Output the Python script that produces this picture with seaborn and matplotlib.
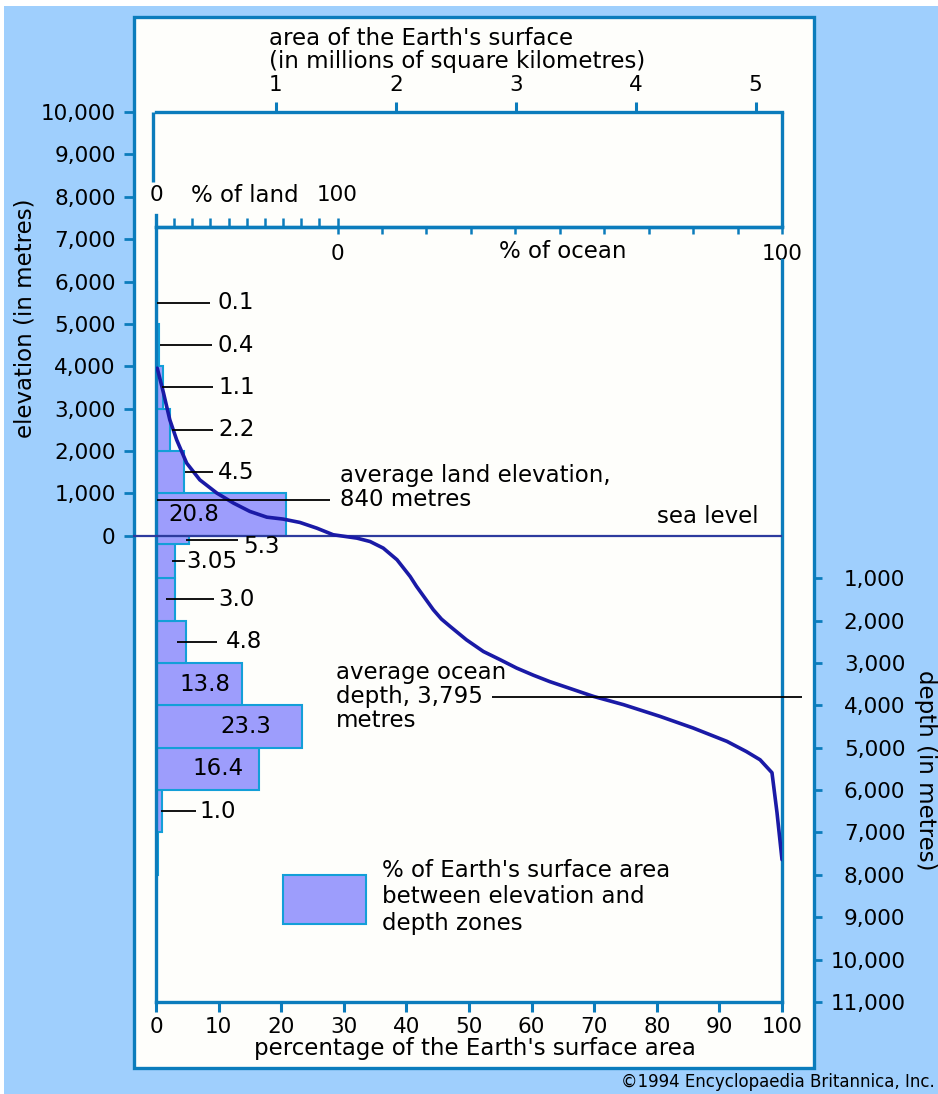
import numpy as np
import pandas as pd
import matplotlib.pyplot as plt
import seaborn as sns
from matplotlib.patches import Rectangle, Patch

# elevation / depth zones (metres, negative = below sea level) and % of Earth's surface
zone_low = [5000, 4000, 3000, 2000, 1000, 0, -200, -1000, -2000, -3000, -4000, -5000, -6000, -7000, -8000]
zone_high = [6000, 5000, 4000, 3000, 2000, 1000, 0, -200, -1000, -2000, -3000, -4000, -5000, -6000, -7000]
zone_pct = [0.1, 0.4, 1.1, 2.2, 4.5, 20.8, 5.3, 3.05, 3.0, 4.8, 13.8, 23.3, 16.4, 1.0, 0.3]
zone_label = ["0.1", "0.4", "1.1", "2.2", "4.5", "20.8", "5.3", "3.05", "3.0", "4.8",
              "13.8", "23.3", "16.4", "1.0", ""]

# hypsometric curve: cumulative % of surface vs elevation
curve_pct = [0.2, 1.2, 2.2, 3.3, 4.9, 7.0, 9.7, 12.4, 15.0, 17.7, 20.3, 23.0, 25.7, 28.3,
             32.1, 34.2, 36.3, 38.5, 40.6, 41.6, 44.3, 45.6, 47.0, 49.6, 52.3, 55.0, 57.6,
             60.3, 62.9, 64.5, 69.9, 74.7, 80.5, 85.8, 91.2, 94.3, 96.5, 98.4, 99.2, 100.0]
curve_elev = [3955, 3370, 2740, 2265, 1715, 1320, 1010, 770, 575, 440, 395, 315, 180, 25,
              -55, -135, -290, -565, -960, -1190, -1745, -1965, -2140, -2455, -2730, -2925,
              -3120, -3290, -3440, -3520, -3790, -3985, -4260, -4535, -4850, -5090, -5285,
              -5590, -6530, -7640]

avg_land = 840
avg_ocean = 3795
land_share = 29          # % of the surface that is land
area_total = 5.22        # top scale value at 100 %

pct_ticks = list(range(0, 101, 10))
area_ticks = [1, 2, 3, 4, 5]
elev_ticks = list(range(0, 10001, 1000))
depth_ticks = list(range(1000, 11001, 1000))

# styling
sns.set_style("white")
plt.rcParams["font.family"] = ["DejaVu Sans"]
plt.rcParams["text.color"] = "black"
BG = "#9fcffd"
EDGE = "#0b7cbc"
BAR = "#9d9dfc"
BAR_EDGE = "#139fd8"
CURVE = "#1a1aa6"
SEA = "#2d3b9e"
FS = 16.5      # annotation text
FT = 15.5      # tick labels

W, H = 938, 1094
fig = plt.figure(figsize=(W / 100, H / 100), dpi=100, facecolor="white")


def fx(px):
    return px / W


def fy(py):
    return 1 - py / H


fig.add_artist(Rectangle((fx(4), 0), 1 - fx(4), fy(6), transform=fig.transFigure,
                         facecolor=BG, edgecolor="none", zorder=-10))
fig.add_artist(Rectangle((fx(134), fy(1068)), fx(814) - fx(134), fy(17) - fy(1068),
                         transform=fig.transFigure, facecolor="#fefefb", edgecolor=EDGE,
                         lw=2.4, zorder=-9))

ax = fig.add_axes([fx(156), fy(1002), fx(782) - fx(156), fy(112) - fy(1002)])
ax.patch.set_visible(False)

# bars
edges = sorted(set(zone_low + zone_high))
zones = pd.DataFrame({"mid": [(lo + hi) / 2 for lo, hi in zip(zone_low, zone_high)],
                      "pct": zone_pct})
sns.histplot(data=zones, y="mid", weights="pct", bins=edges, ax=ax, color=BAR,
             edgecolor=BAR_EDGE, linewidth=1.5, alpha=1)

# sea level
ax.hlines(0, -3.6, 100, color=SEA, lw=1.6, clip_on=False, zorder=3)
ax.text(96.2, 450, "sea level", ha="right", va="center", fontsize=FS)

# curve
sns.lineplot(x=curve_pct, y=curve_elev, sort=False, color=CURVE, lw=2.6, ax=ax, zorder=4)

# zone labels: text x, pointer start, pointer end, vertical nudge (pt)
label_place = {
    "0.1": (9.9, 0.2, 8.6, 0), "0.4": (9.9, 0.6, 9.0, 0), "1.1": (9.9, 1.0, 9.1, 0),
    "2.2": (9.9, 2.6, 9.1, 0), "4.5": (9.9, 4.6, 9.1, 0), "20.8": (6.0, None, None, 0),
    "5.3": (13.9, 4.8, 13.1, -5), "3.05": (4.8, 2.6, 4.6, 0), "3.0": (9.9, 1.6, 9.3, 0),
    "4.8": (11.2, 3.4, 9.7, 0), "13.8": (7.8, None, None, 0), "23.3": (14.3, None, None, 0),
    "16.4": (9.9, None, None, 0), "1.0": (7.0, 0.8, 6.4, 0),
}
for lo, hi, lab in zip(zone_low, zone_high, zone_label):
    if not lab:
        continue
    mid = (lo + hi) / 2
    tx, l0, l1, dy = label_place[lab]
    if l0 is None:
        ax.text(tx, mid, lab, ha="center", va="center", fontsize=FS, zorder=5)
    else:
        ax.hlines(mid, l0, l1, color="black", lw=1.3, zorder=5)
        ax.annotate(lab, (tx, mid), xytext=(0, dy), textcoords="offset points",
                    ha="left", va="center", fontsize=FS, zorder=5)

# averages
ax.hlines(avg_land, 0.2, 27.8, color="black", lw=1.3, zorder=5)
ax.annotate("average land elevation,\n840 metres", (29.4, avg_land), xytext=(0, 9),
            textcoords="offset points", ha="left", va="center", fontsize=FS, linespacing=1.05)
ax.hlines(-avg_ocean, 53.7, 103.2, color="black", lw=1.3, clip_on=False, zorder=5)
ax.text(28.75, -avg_ocean, "average ocean\ndepth, 3,795\nmetres", ha="left", va="center",
        fontsize=FS, linespacing=1.05)

ax.set(xlabel="", ylabel="", xlim=(0, 100), ylim=(-11000, 10000))

# frame
ax.spines["top"].set_visible(False)
for s in ["left", "right", "bottom"]:
    ax.spines[s].set_color(EDGE)
    ax.spines[s].set_linewidth(2.4)
ax.spines["left"].set_bounds(-11000, 7575)
ax.spines["right"].set_bounds(-11000, 6510)
ax.vlines([-0.4, 100], [8350, 7290], [10000, 10000], color=EDGE, lw=2.4, clip_on=False)

ax.set_xticks(pct_ticks)
ax.tick_params(axis="x", bottom=True, direction="out", length=7, width=2.2, color=EDGE,
               labelcolor="black", labelsize=FT, pad=4)
ax.tick_params(axis="y", left=False, labelleft=False)

# area scale on top
area = ax.secondary_xaxis("top", functions=(lambda p: p * area_total / 100,
                                            lambda a: a * 100 / area_total))
area.set_ticks(area_ticks, labels=[str(a) for a in area_ticks])
area.tick_params(direction="out", length=7, width=2.2, color=EDGE, labelcolor="black",
                 labelsize=FT, pad=5)
area.spines["top"].set_color(EDGE)
area.spines["top"].set_linewidth(2.4)

# % of land / % of ocean strip
strip = (7290 + 11000) / 21000
land = ax.secondary_xaxis(strip, functions=(lambda p: p * 100 / land_share,
                                            lambda l: l * land_share / 100))
land.set_ticks(pct_ticks, labels=["0"] + [""] * 9 + ["100"])
land.tick_params(direction="out", length=6.5, width=1.8, color=EDGE, labelcolor="black",
                 labelsize=FT, pad=9)
land.spines["top"].set_color(EDGE)
land.spines["top"].set_linewidth(2.4)

ocean = ax.secondary_xaxis(strip, functions=(
    lambda p: (p - land_share) * 100 / (100 - land_share),
    lambda o: land_share + o * (100 - land_share) / 100))
ocean.set_alignment("bottom")
ocean.set_ticks(pct_ticks, labels=["0"] + [""] * 9 + ["100"])
ocean.tick_params(direction="out", length=5, width=1.8, color=EDGE, labelcolor="black",
                  labelsize=FT, pad=7)
ocean.spines["bottom"].set_color(EDGE)
ocean.spines["bottom"].set_linewidth(2.4)

ax.text(14.2, 8023, "% of land", ha="center", va="center", fontsize=FS)
ax.text(64.9, 6701, "% of ocean", ha="center", va="center", fontsize=FS)

# elevation (left) and depth (right) scales on the panel border
elev = ax.secondary_yaxis((133 - 156) / 626)
elev.set_ticks(elev_ticks, labels=[f"{e:,}" for e in elev_ticks])
elev.tick_params(direction="out", length=6.5, width=2, color=EDGE, labelcolor="black",
                 labelsize=FT, pad=6)
elev.spines["left"].set_visible(False)

dep = ax.secondary_yaxis((813 - 156) / 626, functions=(lambda y: -y, lambda d: -d))
dep.set_ticks(depth_ticks, labels=[f"{d:,}" for d in depth_ticks], ha="right")
dep.tick_params(direction="out", length=6.5, width=2, color=EDGE, labelcolor="black",
                labelsize=FT, pad=60)
dep.spines["right"].set_visible(False)

# legend
ax.legend(handles=[Patch(facecolor=BAR, edgecolor=BAR_EDGE, lw=1.5)],
          labels=["% of Earth's surface area\nbetween elevation and\ndepth zones"],
          loc="center left", bbox_to_anchor=(0.203, 0.118), frameon=False, fontsize=FS,
          handlelength=3.6, handleheight=2.92, handletextpad=0.7, borderpad=0,
          borderaxespad=0, labelspacing=0)

# titles
fig.text(fx(269), fy(50), "area of the Earth's surface\n(in millions of square kilometres)",
         ha="left", va="center", fontsize=FS, linespacing=1.05)
fig.text(fx(25), fy(318), "elevation (in metres)", rotation=90, ha="center", va="center",
         fontsize=FS)
fig.text(fx(925), fy(770), "depth (in metres)", rotation=270, ha="center", va="center",
         fontsize=FS)
fig.text(fx(475), fy(1049), "percentage of the Earth's surface area", ha="center",
         va="center", fontsize=FS)
fig.text(fx(935), fy(1082), "©1994 Encyclopaedia Britannica, Inc.", ha="right",
         va="center", fontsize=12)

fig.savefig("out.png", dpi=100)
